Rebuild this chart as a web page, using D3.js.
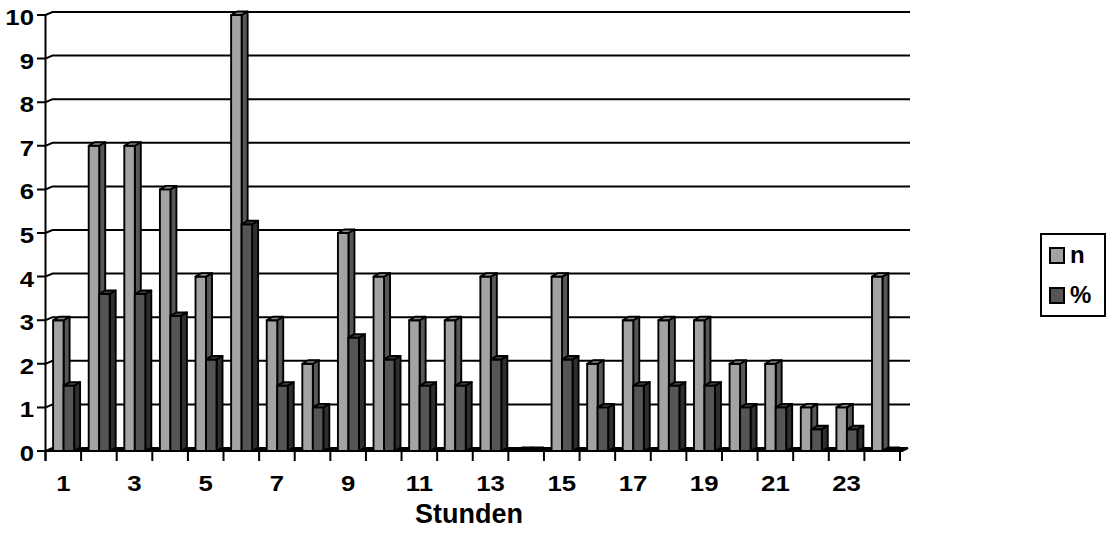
<!DOCTYPE html>
<html>
<head>
<meta charset="utf-8">
<script src="https://cdn.jsdelivr.net/npm/d3@7"></script>
<style>
  html, body { margin: 0; padding: 0; background: #fff; }
  svg { display: block; }
  text { font-family: "Liberation Sans", Arial, sans-serif; font-weight: bold; fill: #000; }
</style>
</head>
<body>
<svg id="chart" width="1108" height="546"></svg>
<script>
const categories = ["1","2","3","4","5","6","7","8","9","10","11","12","13","14","15","16","17","18","19","20","21","22","23","24"];
const seriesNames = ["n", "%"];
const nValues = [3, 7, 7, 6, 4, 10, 3, 2, 5, 4, 3, 3, 4, 0, 4, 2, 3, 3, 3, 2, 2, 1, 1, 4];
const pctValues = [1.5, 3.6, 3.6, 3.1, 2.1, 5.2, 1.5, 1.0, 2.6, 2.1, 1.5, 1.5, 2.1, 0, 2.1, 1.0, 1.5, 1.5, 1.5, 1.0, 1.0, 0.5, 0.5, 0];
const yTicks = [0, 1, 2, 3, 4, 5, 6, 7, 8, 9, 10];
const xTickLabels = ["1","3","5","7","9","11","13","15","17","19","21","23"];
const xTitle = "Stunden";

const svg = d3.select("#chart");
const x0 = 45.5, x1 = 900;
const x = d3.scaleBand().domain(categories).range([x0, x1]).padding(0);
const sub = d3.scaleBand().domain(seriesNames).range([7.6, 28.6]).padding(0);
const y = d3.scaleLinear().domain([0, 10]).range([451, 15]);

const wallDx = 7, wallDy = 3;
const barDx = 6, barDy = 3.5;
const sw = 2;

const colors = {
  "n": { front: "#a3a3a3", side: "#575757", top: "#8a8a8a" },
  "%": { front: "#555555", side: "#2e2e2e", top: "#3c3c3c" }
};

const grid = svg.append("g");
yTicks.forEach(v => {
  const yy = y(v);
  if (v === 0) {
    grid.append("path")
      .attr("d", `M37,${yy} L${x0},${yy}`)
      .attr("stroke", "#000").attr("stroke-width", sw).attr("fill", "none");
  } else {
    grid.append("path")
      .attr("d", `M37,${yy} L${x0},${yy} L${x0 + wallDx},${yy - wallDy} L910,${yy - wallDy}`)
      .attr("stroke", "#000").attr("stroke-width", sw).attr("fill", "none");
  }
});
grid.append("line").attr("x1", x0).attr("x2", x0).attr("y1", y(0) + 10).attr("y2", y(10))
  .attr("stroke", "#000").attr("stroke-width", sw);

grid.append("path")
  .attr("d", `M${x0},${y(0)} L${x1 + 2},${y(0)} L${x1 + 8},${y(0) - wallDy} L${x0 + wallDx},${y(0) - wallDy} Z`)
  .attr("fill", "#000").attr("stroke", "#000").attr("stroke-width", sw);

const ticksX = categories.map(c => x(c)).concat([x1]);
ticksX.forEach(tx => {
  grid.append("line").attr("x1", tx).attr("x2", tx).attr("y1", y(0)).attr("y2", y(0) + 10)
    .attr("stroke", "#000").attr("stroke-width", sw);
});

const bars = svg.append("g");
categories.forEach((c, i) => {
  const vals = { "n": nValues[i], "%": pctValues[i] };
  seriesNames.forEach(s => {
    const v = vals[s];
    const bx = x(c) + sub(s);
    const w = sub.bandwidth();
    const yt = y(v), yb = y(0);
    const col = colors[s];
    const g = bars.append("g").attr("stroke", "#000").attr("stroke-width", 1.9).attr("stroke-linejoin", "round");
    g.append("path")
      .attr("d", `M${bx + w},${yt} L${bx + w + barDx},${yt - barDy} L${bx + w + barDx},${yb - barDy} L${bx + w},${yb} Z`)
      .attr("fill", col.side);
    g.append("rect").attr("x", bx).attr("y", yt).attr("width", w).attr("height", Math.max(0, yb - yt))
      .attr("fill", col.front);
    g.append("path")
      .attr("d", `M${bx},${yt} L${bx + barDx},${yt - barDy} L${bx + w + barDx},${yt - barDy} L${bx + w},${yt} Z`)
      .attr("fill", v === 0 ? "#000" : col.top);
  });
});

const stretch = 1.12;
svg.append("g").selectAll("text").data(yTicks).join("text")
  .attr("transform", d => `translate(34,${y(d) + 10}) scale(${stretch},1)`)
  .attr("text-anchor", "end")
  .attr("font-size", 23)
  .text(d => d);

svg.append("g").selectAll("text").data(xTickLabels).join("text")
  .attr("transform", d => `translate(${x(d) + x.bandwidth() / 2},491) scale(${stretch},1)`)
  .attr("text-anchor", "middle")
  .attr("font-size", 23)
  .text(d => d);

svg.append("text").attr("x", 469).attr("y", 523).attr("text-anchor", "middle")
  .attr("font-size", 27).text(xTitle);

const lg = svg.append("g");
lg.append("rect").attr("x", 1041).attr("y", 234).attr("width", 64).attr("height", 82)
  .attr("fill", "#fff").attr("stroke", "#000").attr("stroke-width", 2);
seriesNames.forEach((s, i) => {
  const yy = 248 + i * 40;
  lg.append("rect").attr("x", 1050).attr("y", yy).attr("width", 14).attr("height", 15)
    .attr("fill", colors[s].front).attr("stroke", "#000").attr("stroke-width", 2);
  lg.append("text").attr("x", 1070).attr("y", yy + 15).attr("font-size", 24).text(s);
});
</script>
</body>
</html>
